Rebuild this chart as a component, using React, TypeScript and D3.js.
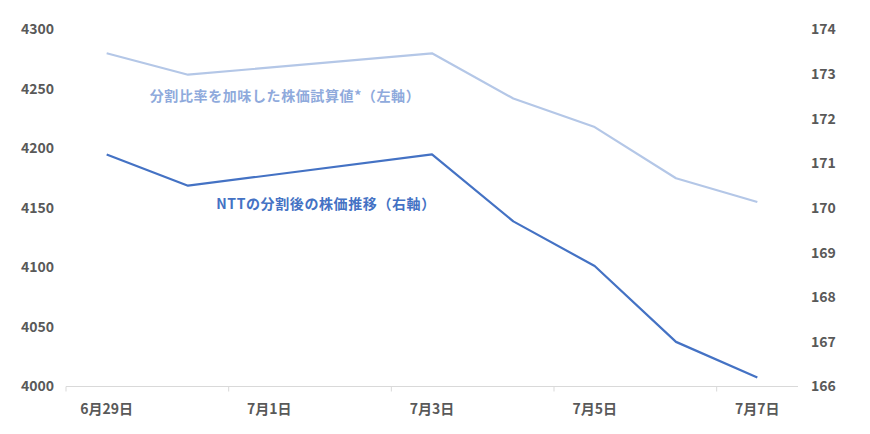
import * as d3 from "d3";
import React, { useEffect, useRef } from "react";

// calendar days shown on the axis (weekend included, no data there)
const days = ["6/29", "6/30", "7/1", "7/2", "7/3", "7/4", "7/5", "7/6", "7/7"];
const tradeDays = ["6/29", "6/30", "7/3", "7/4", "7/5", "7/6", "7/7"];
const adjusted = [4280, 4262, 4280, 4242, 4218, 4175, 4155]; // left axis
const actual = [171.2, 170.5, 171.2, 169.7, 168.7, 167.0, 166.2]; // right axis
const leftTicks = [4000, 4050, 4100, 4150, 4200, 4250, 4300];
const rightTicks = [166, 167, 168, 169, 170, 171, 172, 173, 174];

const W = 870;
const H = 434;
const font = "'Noto Sans CJK JP', 'Noto Sans', sans-serif";

function dayLabel(d) {
  const [m, dd] = d.split("/");
  return `${m}月${dd}日`;
}

function draw(svgEl) {
  const svg = d3.select(svgEl);
  svg.selectAll("*").remove();

  const x = d3.scaleBand().domain(days).range([66, 798]);
  const yL = d3.scaleLinear().domain([4000, 4300]).range([386.5, 29.5]);
  const yR = d3.scaleLinear().domain([166, 174]).range([386.5, 29.5]);
  const cx = (d) => x(d) + x.bandwidth() / 2;

  // bottom axis line + ticks at every second category boundary
  svg
    .append("line")
    .attr("x1", 66)
    .attr("x2", 798)
    .attr("y1", yL(4000))
    .attr("y2", yL(4000))
    .attr("stroke", "#d9d9d9")
    .attr("stroke-width", 1);

  svg
    .append("g")
    .selectAll("line")
    .data(days.filter((_, i) => i % 2 === 0))
    .join("line")
    .attr("x1", (d) => x(d))
    .attr("x2", (d) => x(d))
    .attr("y1", yL(4000))
    .attr("y2", yL(4000) + 5)
    .attr("stroke", "#d9d9d9");

  svg
    .append("g")
    .selectAll("text")
    .data(days.filter((_, i) => i % 2 === 0))
    .join("text")
    .attr("x", cx)
    .attr("y", 409)
    .attr("dy", "0.35em")
    .attr("text-anchor", "middle")
    .attr("fill", "#595959")
    .attr("font-size", 14)
    .attr("font-weight", 700)
    .text(dayLabel);

  svg
    .append("g")
    .selectAll("text")
    .data(leftTicks)
    .join("text")
    .attr("x", 54)
    .attr("y", (d) => yL(d))
    .attr("dy", "0.35em")
    .attr("text-anchor", "end")
    .attr("fill", "#595959")
    .attr("font-size", 14)
    .attr("font-weight", 700)
    .text((d) => d);

  svg
    .append("g")
    .selectAll("text")
    .data(rightTicks)
    .join("text")
    .attr("x", 811)
    .attr("y", (d) => yR(d))
    .attr("dy", "0.35em")
    .attr("text-anchor", "start")
    .attr("fill", "#595959")
    .attr("font-size", 14)
    .attr("font-weight", 700)
    .text((d) => d);

  const lineL = d3
    .line()
    .x((d, i) => cx(tradeDays[i]))
    .y((d) => yL(d));
  const lineR = d3
    .line()
    .x((d, i) => cx(tradeDays[i]))
    .y((d) => yR(d));

  svg
    .append("path")
    .attr("d", lineL(adjusted))
    .attr("fill", "none")
    .attr("stroke", "#b4c7e7")
    .attr("stroke-width", 2.2)
    .attr("stroke-linejoin", "round");

  svg
    .append("path")
    .attr("d", lineR(actual))
    .attr("fill", "none")
    .attr("stroke", "#4472c4")
    .attr("stroke-width", 2.2)
    .attr("stroke-linejoin", "round");

  svg
    .append("text")
    .attr("x", 285)
    .attr("y", 96)
    .attr("dy", "0.35em")
    .attr("text-anchor", "middle")
    .attr("fill", "#8faadc")
    .attr("font-size", 14)
    .attr("font-weight", 700)
    .attr("letter-spacing", 0.6)
    .text("分割比率を加味した株価試算値*（左軸）");

  svg
    .append("text")
    .attr("x", 326)
    .attr("y", 204)
    .attr("dy", "0.35em")
    .attr("text-anchor", "middle")
    .attr("fill", "#4472c4")
    .attr("font-size", 14)
    .attr("font-weight", 700)
    .attr("letter-spacing", 0.6)
    .text("NTTの分割後の株価推移（右軸）");
}

export default function App() {
  const ref = useRef<SVGSVGElement | null>(null);

  useEffect(() => {
    if (ref.current) draw(ref.current);
  }, []);

  return (
    <svg
      ref={ref}
      width={W}
      height={H}
      style={{ position: "absolute", left: 0, top: 0, background: "#fff", fontFamily: font }}
    />
  );
}
